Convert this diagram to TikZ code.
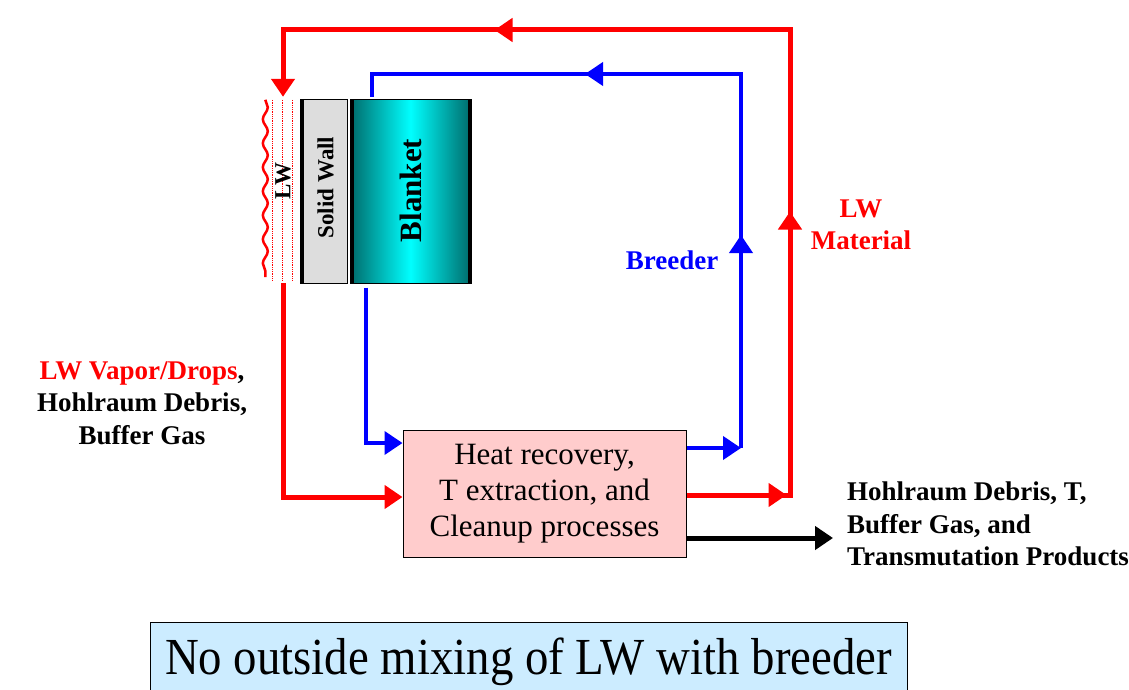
\documentclass[tikz,border=0pt]{standalone}
\usepackage{fontspec}
\setmainfont{Liberation Serif}
\usepackage{graphicx}
\usetikzlibrary{arrows.meta, calc, decorations.markings, decorations.pathmorphing}
\definecolor{lwred}{HTML}{FF0000}
\definecolor{brblue}{HTML}{0000FF}
\definecolor{procpink}{HTML}{FFCCCC}
\definecolor{noteblue}{HTML}{CCECFF}
\definecolor{wallgrey}{HTML}{DDDDDD}
\definecolor{tealdark}{HTML}{006A6A}
\newcommand{\flowtip}{\arrow{Triangle[length=18pt,width=23pt]}}

\begin{document}
\begin{tikzpicture}[x=1pt, y=1pt,
    redflow/.style={draw=lwred, line width=5pt},
    blueflow/.style={draw=brblue, line width=4pt},
    endtip/.style={-{Triangle[length=18pt,width=23pt]}},
    lab/.style={font=\fontsize{27}{32.5}\selectfont\bfseries, align=center, inner sep=0pt},
    sidebox/.style={draw=black, line width=1pt, minimum height=183pt, inner sep=0pt}
  ]
  \useasboundingbox (0,0) rectangle (1129,-690);

  % first wall and blanket
  \node[minimum width=35pt, minimum height=186pt, inner sep=0pt] (lwlayer) at (283,-190) {};
  \node[sidebox, fill=wallgrey, minimum width=47pt] (wall) at (323.5,-191.5) {};
  \node[sidebox, minimum width=121pt, left color=tealdark, right color=tealdark, middle color=cyan] (blanket) at (410.5,-191.5) {};
  \draw[line width=4pt] ([xshift=2pt]wall.north west) -- ([xshift=2pt]wall.south west);
  \draw[line width=4pt] ([xshift=2pt]blanket.north west) -- ([xshift=2pt]blanket.south west);
  \draw[line width=4pt] ([xshift=-2pt]blanket.north east) -- ([xshift=-2pt]blanket.south east);
  \draw[lwred, line width=2.5pt, decorate, decoration={snake, amplitude=2.5pt, segment length=24pt}]
    ([yshift=-3pt]lwlayer.north west) -- ([yshift=6pt]lwlayer.south west);
  \foreach \dx in {-11,-1,9}
    \draw[lwred, densely dotted, line width=0.8pt] ([xshift=\dx pt, yshift=-3pt]lwlayer.north) -- ([xshift=\dx pt, yshift=3pt]lwlayer.south);
  \node[rotate=90, font=\fontsize{23}{26}\selectfont\bfseries, inner sep=0pt] (lwtext) at ([yshift=9pt]lwlayer.center) {LW};
  \node[rotate=90, font=\fontsize{23}{26}\selectfont\bfseries, inner sep=0pt] (walltext) at ([xshift=2pt, yshift=4pt]wall.center) {Solid Wall};
  \node[rotate=90, font=\fontsize{31}{34}\selectfont\bfseries, inner sep=0pt] (blankettext) at ([yshift=1pt]blanket.center) {Blanket};

  % processing loop
  \node[draw=black, line width=1pt, fill=procpink, minimum width=283pt, minimum height=127pt, align=center,
        font=\fontsize{31}{36}\selectfont] (proc) at (544.5,-493.5) {\raisebox{-7pt}{\parbox{270pt}{\centering Heat recovery,\\T extraction, and\\Cleanup processes}}};
  \coordinate (rtop) at (790,-30);
  \coordinate (bcorner) at (741,-448);
  \coordinate (bup) at (372,-74);
  \coordinate (bdown) at (366,-443);
  \coordinate (blackend) at (833,-538);

  \draw[redflow, endtip, postaction={decorate}, decoration={markings,
      mark=at position 100pt with {\flowtip}, mark=at position 387pt with {\flowtip},
      mark=at position 864pt with {\flowtip}}]
    ([yshift=-1.5pt]proc.east) -| (rtop) -| (lwlayer.north);
  \draw[redflow, endtip] (lwlayer.south) |- ([yshift=-3.5pt]proc.west);
  \draw[blueflow, endtip] ([yshift=45.5pt]proc.east) -- (bcorner);
  \draw[blueflow, postaction={decorate}, decoration={markings,
      mark=at position 213pt with {\flowtip}, mark=at position 530pt with {\flowtip}}]
    (bcorner) |- (bup) -- ([yshift=2pt]bup |- blanket.north);
  \draw[blueflow, endtip] ([yshift=-4pt]bdown |- blanket.south) -- (bdown) -- (bdown -| proc.west);
  \draw[line width=5pt, endtip] ([yshift=-44.5pt]proc.east) -- (blackend);

  % labels
  \node[lab] (vaporlab) at (142,-403) {\textcolor{lwred}{LW Vapor/Drops},\\Hohlraum Debris,\\Buffer Gas};
  \node[lab, text=brblue] (breederlab) at (672,-260) {Breeder};
  \node[lab, text=lwred] (materiallab) at (861,-225) {LW\\Material};
  \node[lab, align=left, anchor=west] (outlab) at (847,-524) {Hohlraum Debris, T,\\Buffer Gas, and\\Transmutation Products};

  \node[draw=black, line width=1pt, fill=noteblue, minimum width=757pt, minimum height=80pt, inner sep=0pt,
        font=\fontsize{52}{60}\selectfont] (note) at (528.5,-662) {\raisebox{4pt}{\scalebox{0.9}[1]{No outside mixing of LW with breeder}}};
\end{tikzpicture}
\end{document}
